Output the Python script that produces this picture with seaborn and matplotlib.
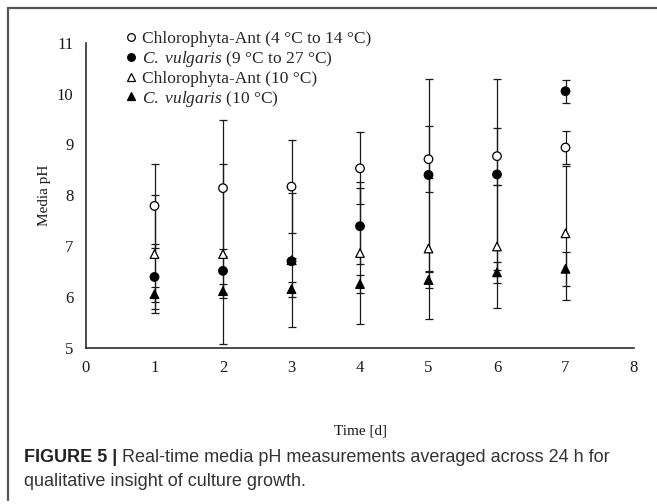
import matplotlib
matplotlib.use("Agg")
import matplotlib.pyplot as plt
from matplotlib.lines import Line2D
import seaborn as sns
import pandas as pd

# ── Data ─────────────────────────────────────────────────────────────────────

days = [1, 2, 3, 4, 5, 6, 7]

ant_var_mean = [7.79, 8.14, 8.17, 8.53, 8.71, 8.77, 8.94]   # open circle
ant_var_err = [0.82, 1.34, 0.92, 0.71, 0.65, 0.56, 0.33]
cv_var_mean = [6.39, 6.51, 6.70, 7.39, 8.40, 8.41, 10.05]   # filled circle
cv_var_err = [0.64, 0.44, 0.06, 0.75, 1.89, 1.88, 0.23]
ant_10_mean = [6.84, 6.84, 6.72, 6.86, 6.95, 6.99, 7.25]    # open triangle
ant_10_err = [1.16, 1.77, 1.32, 1.40, 1.39, 1.22, 1.32]
cv_10_mean = [6.05, 6.11, 6.15, 6.25, 6.33, 6.48, 6.55]     # filled triangle
cv_10_err = [0.15, 0.14, 0.15, 0.18, 0.15, 0.20, 0.34]

series_labels = [
    "Chlorophyta-Ant (4 °C to 14 °C)",
    r"$\mathit{C.\ vulgaris}$ (9 °C to 27 °C)",
    "Chlorophyta-Ant (10 °C)",
    r"$\mathit{C.\ vulgaris}$ (10 °C)",
]

x_ticks = [0, 1, 2, 3, 4, 5, 6, 7, 8]
y_ticks = [5, 6, 7, 8, 9, 10, 11]

caption_bold = "FIGURE 5 | "
caption_line1 = "Real-time media pH measurements averaged across 24 h for"
caption_line2 = "qualitative insight of culture growth."

# ── Config ────────────────────────────────────────────────────────────────────

sns.set_theme(style="white")
plt.rcParams.update({
    "font.family": ["Liberation Serif", "DejaVu Serif"],
    "mathtext.fontset": "custom",
    "mathtext.rm": "Liberation Serif",
    "mathtext.it": "Liberation Serif:italic",
})

W, H = 657, 504

frames = []
for lab, m, e in zip(series_labels,
                     [ant_var_mean, cv_var_mean, ant_10_mean, cv_10_mean],
                     [ant_var_err, cv_var_err, ant_10_err, cv_10_err]):
    frames.append(pd.DataFrame({"day": days, "pH": m, "err": e, "series": lab}))
df = pd.concat(frames, ignore_index=True)

# drawing order: filled circle on top of open triangle
draw_order = [series_labels[0], series_labels[2], series_labels[3], series_labels[1]]
df_draw = pd.concat([df[df.series == s] for s in draw_order], ignore_index=True)

palette = {series_labels[0]: "white", series_labels[1]: "black",
           series_labels[2]: "white", series_labels[3]: "black"}
markers = {series_labels[0]: "o", series_labels[1]: "o",
           series_labels[2]: "^", series_labels[3]: "^"}

fig = plt.figure(figsize=(W / 100, H / 100), dpi=100)
ax = fig.add_axes([86 / W, 1 - 347.5 / H, (634 - 86) / W, (347.5 - 43) / H])

# ── Error bars + markers ─────────────────────────────────────────────────────

for s in draw_order:
    d = df[df.series == s]
    ax.errorbar(d["day"], d["pH"], yerr=d["err"], fmt="none",
                ecolor="#1a1a1a", elinewidth=0.9, capsize=2.6, capthick=0.9,
                zorder=2)

sns.scatterplot(data=df_draw, x="day", y="pH", hue="series", style="series",
                hue_order=series_labels, style_order=series_labels,
                palette=palette, markers=markers, edgecolor="black",
                linewidth=0.9, s=38, ax=ax, zorder=3)

# ── Axes ─────────────────────────────────────────────────────────────────────

ax.set_xlim(0, 8)
ax.set_ylim(5, 11)
ax.set_xticks(x_ticks)
ax.set_yticks(y_ticks)
ax.tick_params(axis="both", length=0, labelsize=12, colors="#1a1a1a")
ax.tick_params(axis="x", pad=9)
ax.tick_params(axis="y", pad=9)
for side in ["top", "right"]:
    ax.spines[side].set_visible(False)
for side in ["left", "bottom"]:
    ax.spines[side].set_color("#1a1a1a")
    ax.spines[side].set_linewidth(1.1)
ax.set_xlabel("Time [d]", fontsize=11, labelpad=35, color="#1a1a1a")
ax.set_ylabel("Media pH", fontsize=11, labelpad=4, color="#1a1a1a")

handles, labels = ax.get_legend_handles_labels()
for h in handles:
    h.set_markersize(5.5)
ax.legend(handles, labels, loc="upper left",
          bbox_to_anchor=(126 / W, 1 - 31 / H), bbox_transform=fig.transFigure,
          frameon=False, fontsize=12.5, handlelength=0.6, handletextpad=0.35,
          labelspacing=0.1, borderpad=0, borderaxespad=0)

# ── Frame and caption ────────────────────────────────────────────────────────

fig.add_artist(Line2D([8 / W, 1], [1 - 8 / H, 1 - 8 / H],
                      transform=fig.transFigure, color="#555555", lw=1.6))
fig.add_artist(Line2D([8 / W, 8 / W], [1 - 8 / H, 1 - 500 / H],
                      transform=fig.transFigure, color="#555555", lw=1.6))

cap_font = ["Liberation Sans", "DejaVu Sans"]
t1 = fig.text(24 / W, 1 - 457 / H, caption_bold, family=cap_font,
              fontsize=13, fontweight="bold", va="center", color="#222222")
fig.canvas.draw()
bb = t1.get_window_extent(renderer=fig.canvas.get_renderer())
fig.text(bb.x1 / W, 1 - 457 / H, caption_line1, family=cap_font,
         fontsize=13, va="center", color="#333333")
fig.text(24 / W, 1 - 482 / H, caption_line2, family=cap_font,
         fontsize=13, va="center", color="#333333")

fig.savefig("out.png", dpi=100)
